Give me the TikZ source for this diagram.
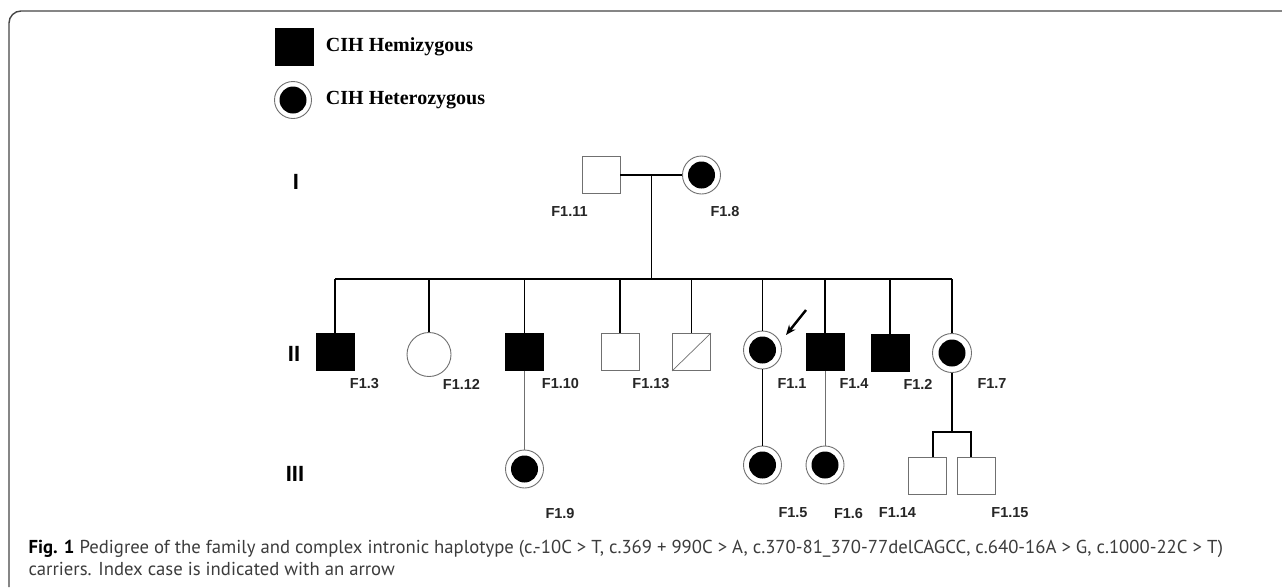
\documentclass[tikz,border=0pt]{standalone}
\usepackage{fontspec}
\setmainfont{Liberation Serif}
\newfontfamily\pedfont{Liberation Sans}
\newfontfamily\capfont{PT Sans}
\usepackage{tikz}
\usetikzlibrary{
  arrows.meta,
  positioning,
  calc
}
\usepackage{xcolor}
\definecolor{outlinegray}{RGB}{112,112,112}
\definecolor{captiongray}{RGB}{60,60,60}
\definecolor{framegray}{RGB}{70,70,70}

\begin{document}
\begin{tikzpicture}[x=1pt, y=-1pt,
  male/.style={draw=outlinegray, line width=0.9pt, fill=white,
    minimum width=38pt, minimum height=37pt, inner sep=0pt},
  affected/.style={male, draw=black, fill=black},
  female/.style={circle, draw=outlinegray, line width=0.9pt, fill=white,
    minimum size=#1, inner sep=0pt},
  carrier/.style={circle, draw=outlinegray, line width=0.9pt, fill=white,
    minimum size=38pt, inner sep=0pt,
    path picture={\fill[black] (path picture bounding box.center) circle (13.5pt);}},
  pedid/.style={font=\pedfont\bfseries\fontsize{14.5}{16}\selectfont, text=black!85},
  genno/.style={font=\pedfont\bfseries\fontsize{22}{24}\selectfont},
  keytext/.style={font=\bfseries\fontsize{20}{22}\selectfont, anchor=west},
  link/.style={line width=1.2pt},
  thinlink/.style={line width=0.8pt, draw=outlinegray}
]
  % Page and frame
  \useasboundingbox (0,0) rectangle (1282,587);
  \fill[white] (0,0) rectangle (1282,587);
  \draw[framegray, line width=1.4pt, rounded corners=12pt]
    (9,587) -- (9,11) -- (1282,11);

  % Legend
  \node[affected] (keyhemi) at (294,46.5) {};
  \node[keytext, right=9pt of keyhemi] {CIH Hemizygous};
  \node[carrier, minimum size=37pt] (keyhetero) at (293,100) {};
  \node[keytext, right=10.5pt of keyhetero] {CIH Heterozygous};

  % Generation numbers
  \node[genno] (genI) at (296,182) {I};
  \node[genno] (genII) at (294,354) {II};
  \node[genno] (genIII) at (295,474) {III};

  % Generation I
  \node[male] (F111) at (601,175) {};
  \node[carrier] (F18) at (701.5,175) {};
  \node[pedid] at (569.5,212) {F1.11};
  \node[pedid] at (725,212) {F1.8};
  \draw[link] (F111.east) -- (F18.west);
  \coordinate (mate) at (651.5,175);
  \coordinate (sibbar) at (651.5,279);
  \draw[link] (mate) -- (sibbar);

  % Generation II
  \node[affected] (F13) at (335,352) {};
  \node[female=44pt] (F112) at (429,354.5) {};
  \node[affected] (F110) at (524.5,352) {};
  \node[male] (F113) at (620,352) {};
  \node[male] (deceased) at (691.5,352) {};
  \draw[outlinegray, line width=0.7pt] (deceased.south west) -- (deceased.north east);
  \node[carrier] (F11) at (762.5,350) {};
  \node[affected] (F14) at (825,352) {};
  \node[affected] (F12) at (890,353) {};
  \node[carrier, minimum size=39pt] (F17) at (952,353) {};

  \node[pedid] at (364.5,384) {F1.3};
  \node[pedid] at (461.5,384) {F1.12};
  \node[pedid] at (560.5,384) {F1.10};
  \node[pedid] at (651,384) {F1.13};
  \node[pedid] at (792,384) {F1.1};
  \node[pedid] at (854,384) {F1.4};
  \node[pedid] at (918,384) {F1.2};
  \node[pedid] at (992,384) {F1.7};

  % Sibship line and drops
  \draw[link] (F13.north |- sibbar) -- (F17.north |- sibbar);
  \foreach \n in {F13,F112,F110,F113,deceased,F11,F14,F12,F17}{
    \draw[link] (\n.north |- sibbar) -- (\n.north);
  }

  % Index case arrow
  \coordinate (arrowtail) at (806,310);
  \coordinate (arrowtip) at (786,335);
  \draw[line width=2.4pt, -{Stealth[length=10pt, width=8pt]}] (arrowtail) -- (arrowtip);

  % Generation III
  \node[carrier] (F19) at (524.5,469) {};
  \node[carrier] (F15) at (762.5,465) {};
  \node[carrier] (F16) at (825,465) {};
  \node[male] (F114) at (927,475.5) {};
  \node[male] (F115) at (976,475.5) {};

  \node[pedid] at (560,513) {F1.9};
  \node[pedid] at (793,513) {F1.5};
  \node[pedid] at (848.5,513) {F1.6};
  \node[pedid] at (897.5,513) {F1.14};
  \node[pedid] at (1010,513) {F1.15};

  \draw[thinlink] (F110.south) -- (F19.north);
  \draw[link] (F11.south) -- (F15.north);
  \draw[thinlink] (F14.south) -- (F16.north);

  % Twins
  \coordinate (twinfork) at (952,432);
  \coordinate (twinL) at (933,432);
  \coordinate (twinR) at (971,432);
  \draw[link] (F17.south) -- (twinfork);
  \draw[link] (twinL |- F114.north) -- (twinL) -- (twinR) -- (twinR |- F115.north);

  % Caption
  \node[anchor=base west, font=\capfont\fontsize{18.7}{22}\selectfont, text=captiongray]
    (caption) at (25,553)
    {\textcolor{black}{\textbf{Fig. 1}} Pedigree of the family and complex intronic haplotype (c.-10C > T, c.369 + 990C > A, c.370-81\_370-77delCAGCC, c.640-16A > G, c.1000-22C > T)};
  \node[anchor=base west, font=\capfont\fontsize{18.7}{22}\selectfont, text=captiongray]
    (caption2) at (25,575)
    {carriers. Index case is indicated with an arrow};
\end{tikzpicture}
\end{document}
